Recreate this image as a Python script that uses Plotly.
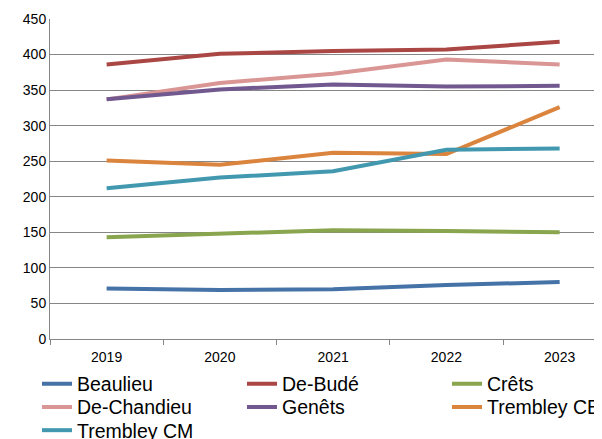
import plotly.graph_objects as go

years = ["2019", "2020", "2021", "2022", "2023"]
beaulieu = [71, 69, 70, 76, 80]
de_bude = [386, 401, 405, 407, 418]
crets = [143, 148, 153, 152, 150]
de_chandieu = [337, 360, 373, 393, 386]
genets = [337, 351, 358, 355, 356]
trembley_ce = [251, 245, 262, 260, 326]
trembley_cm = [212, 227, 236, 266, 268]

names = ["Beaulieu", "De-Budé", "Crêts", "De-Chandieu", "Genêts", "Trembley CE", "Trembley CM"]
values = [beaulieu, de_bude, crets, de_chandieu, genets, trembley_ce, trembley_cm]
colors = ["#4572A7", "#AA4643", "#89A54E", "#D99694", "#71588F", "#DB843D", "#4198AF"]

# page body has an 8px margin; figure sized to fit the 602x439 window
FW, FH = 594, 431
L, T = 42, 11
W, H = FW - L, 320

# legend grid: 3 columns, rows in page pixels
col_text_x = [78, 283, 488]
row_center_y = [383.5, 406.7, 430]

fig = go.Figure()
layout_legends = {}
for i, (name, vals, color) in enumerate(zip(names, values, colors)):
    key = "legend" if i == 0 else f"legend{i + 1}"
    fig.add_trace(go.Scatter(x=years, y=vals, name=name, mode="lines", showlegend=True,
                             line=dict(color=color, width=4), legend=key))
    col, row = i % 3, i // 3
    left_px = col_text_x[col] - 8 - 41
    top_px = row_center_y[row] - 19 - 8
    layout_legends[key] = dict(
        x=(left_px - L) / W, y=(T + H - top_px) / H,
        xanchor="left", yanchor="top", orientation="v",
        font=dict(family="Liberation Sans, Arial", size=19.5, color="#000"),
        bgcolor="rgba(0,0,0,0)", itemwidth=30, visible=True)

fig.update_layout(
    width=FW, height=FH, showlegend=True,
    margin=dict(l=L, r=0, t=T, b=FH - T - H, autoexpand=False),
    paper_bgcolor="white", plot_bgcolor="white",
    font=dict(family="Liberation Sans, Arial", size=14, color="#000"),
    xaxis=dict(type="category", range=[-0.5, 4.374], showgrid=False,
               showline=True, linecolor="#868686", linewidth=1,
               ticks="outside", tickson="boundaries", ticklen=5, tickcolor="#868686",
               tickfont=dict(size=14), ticklabelstandoff=5),
    yaxis=dict(range=[0, 450], dtick=50, showgrid=True, gridcolor="#868686", gridwidth=1,
               showline=True, linecolor="#868686", linewidth=1, zeroline=False,
               ticks="", tickfont=dict(size=14)),
    **layout_legends,
)

fig.write_html("out.html")
